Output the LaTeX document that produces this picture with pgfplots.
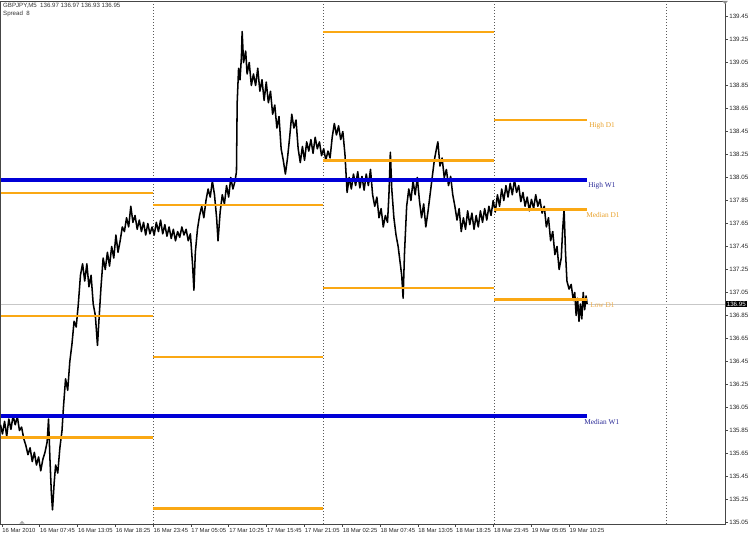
\documentclass[border=0pt]{standalone}
\usepackage{pgfplots}
\pgfplotsset{compat=1.18}
\usepackage{fontspec}
\setmainfont{Liberation Sans}
\newfontfamily\lblfont{Liberation Serif}
\definecolor{lvlorange}{RGB}{250,168,20}
\definecolor{lvlorangetxt}{RGB}{232,160,40}
\definecolor{lowtxt}{RGB}{236,172,75}
\definecolor{wkblue}{RGB}{0,0,215}
\definecolor{wkbluetxt}{RGB}{40,40,150}
\definecolor{framegray}{RGB}{70,70,70}

\begin{document}
\begin{tikzpicture}
\useasboundingbox (0,0) rectangle (562.5pt,404.25pt);
\begin{axis}[
  at={(0.4pt,403.5pt)}, anchor=north west,
  scale only axis, width=543.4pt, height=392.25pt,
  xmin=2.23, xmax=104.4, ymin=135.037, ymax=139.585,
  clip=false,
  axis line style={draw=framegray, line width=0.6pt},
  xtick pos=left, ytick pos=right, yticklabel pos=right,
  tick align=outside, major tick length=2.2pt,
  tick style={framegray, line width=0.5pt},
  /pgf/number format/assume math mode=true,
  ticklabel style={font=\fontsize{4.65}{5}\selectfont, text=black!85},
  xticklabel style={font=\fontsize{4.4}{5}\selectfont, anchor=north west, inner sep=0pt, xshift=0.2pt, yshift=-1.2pt},
  yticklabel style={anchor=west, inner sep=0pt, xshift=0.8pt},
  xtick={2.4167,7.75,13.0833,18.4167,23.75,29.0833,34.4167,39.75,45.0833,50.4167,55.75,61.0833,66.4167,71.75,77.0833,82.4167},
  xticklabels={16 Mar 2010,16 Mar 07:45,16 Mar 13:05,16 Mar 18:25,16 Mar 23:45,17 Mar 05:05,17 Mar 10:25,17 Mar 15:45,17 Mar 21:05,18 Mar 02:25,18 Mar 07:45,18 Mar 13:05,18 Mar 18:25,18 Mar 23:45,19 Mar 05:05,19 Mar 10:25},
  ytick={135.05,135.25,135.45,135.65,135.85,136.05,136.25,136.45,136.65,136.85,137.05,137.25,137.45,137.65,137.85,138.05,138.25,138.45,138.65,138.85,139.05,139.25,139.45},
  yticklabels={135.05,135.25,135.45,135.65,135.85,136.05,136.25,136.45,136.65,136.85,137.05,137.25,137.45,137.65,137.85,138.05,138.25,138.45,138.65,138.85,139.05,139.25,139.45},
]
% day separators
\addplot[black!65, line width=0.5pt, dash pattern=on 0.75pt off 1.5pt] coordinates {(23.79,135.037)(23.79,139.585)};
\addplot[black!65, line width=0.5pt, dash pattern=on 0.75pt off 1.5pt] coordinates {(47.74,135.037)(47.74,139.585)};
\addplot[black!65, line width=0.5pt, dash pattern=on 0.75pt off 1.5pt] coordinates {(71.83,135.037)(71.83,139.585)};
\addplot[black!65, line width=0.5pt, dash pattern=on 0.75pt off 1.5pt] coordinates {(96.07,135.037)(96.07,139.585)};
% last price line
\addplot[black!22, line width=0.5pt] coordinates {(2.23,136.95)(104.4,136.95)};

% GBPJPY M5 price path
\addplot[black, line width=1.15pt, line join=round] coordinates {
(2.23,135.90)(2.5,135.82)(2.8,135.93)(3.1,135.80)(3.4,135.95)(3.7,135.86)(4.0,135.98)(4.3,135.90)(4.6,135.97)(4.9,135.85)(5.2,135.88)(5.5,135.78)(5.8,135.72)(6.1,135.64)(6.4,135.70)(6.7,135.58)(7.0,135.66)(7.3,135.55)(7.6,135.62)(7.9,135.50)(8.2,135.60)(8.5,135.66)(8.8,135.75)(9.0,135.95)(9.2,135.60)(9.4,135.30)(9.56,135.16)(9.8,135.40)(10.0,135.55)(10.3,135.48)(10.6,135.70)(10.9,135.85)(11.1,136.05)(11.4,136.30)(11.7,136.20)(12.0,136.45)(12.3,136.60)(12.6,136.80)(12.9,136.75)(13.2,136.95)(13.5,137.20)(13.8,137.30)(14.1,137.15)(14.4,137.30)(14.7,137.10)(15.0,137.20)(15.3,136.95)(15.6,136.85)(15.9,136.59)(16.1,136.80)(16.4,137.10)(16.7,137.35)(17.0,137.25)(17.3,137.40)(17.6,137.28)(17.9,137.45)(18.2,137.35)(18.5,137.55)(18.8,137.40)(19.1,137.50)(19.4,137.62)(19.7,137.58)(20.0,137.70)(20.3,137.62)(20.6,137.80)(20.9,137.66)(21.2,137.72)(21.5,137.60)(21.8,137.68)(22.1,137.58)(22.4,137.66)(22.7,137.55)(23.0,137.65)(23.3,137.56)(23.6,137.62)
(23.9,137.55)(24.2,137.66)(24.5,137.58)(24.8,137.68)(25.1,137.56)(25.4,137.64)(25.7,137.54)(26.0,137.62)(26.3,137.52)(26.6,137.60)(26.9,137.50)(27.2,137.58)(27.5,137.53)(27.8,137.62)(28.1,137.55)(28.4,137.60)(28.7,137.50)(29.0,137.56)(29.3,137.30)(29.5,137.07)(29.7,137.40)(30.0,137.60)(30.3,137.72)(30.6,137.80)(30.9,137.70)(31.2,137.85)(31.5,137.95)(31.8,137.88)(32.1,138.02)(32.4,137.90)(32.7,137.70)(32.9,137.50)(33.2,137.75)(33.5,137.90)(33.8,137.82)(34.1,137.98)(34.4,137.88)(34.7,138.05)(35.0,137.95)(35.3,138.02)(35.5,138.10)(35.6,138.70)(35.8,139.00)(36.0,138.90)(36.2,139.10)(36.3,139.32)(36.5,139.05)(36.8,139.15)(37.0,138.95)(37.3,139.05)(37.6,138.85)(37.9,138.95)(38.2,138.85)(38.5,139.00)(38.8,138.80)(39.1,138.90)(39.4,138.72)(39.7,138.88)(40.0,138.70)(40.3,138.80)(40.6,138.60)(40.9,138.68)(41.2,138.48)(41.5,138.58)(41.8,138.30)(42.1,138.20)(42.4,138.08)(42.7,138.22)(43.0,138.40)(43.3,138.60)(43.6,138.48)(43.9,138.55)(44.2,138.30)(44.5,138.18)(44.8,138.32)(45.1,138.20)(45.4,138.36)(45.7,138.28)(46.0,138.38)(46.3,138.26)(46.6,138.40)(46.9,138.30)(47.2,138.36)(47.5,138.24)(47.8,138.30)
(48.1,138.20)(48.4,138.28)(48.7,138.22)(49.0,138.40)(49.3,138.52)(49.6,138.42)(49.9,138.50)(50.2,138.38)(50.5,138.45)(50.8,138.25)(51.1,137.92)(51.4,138.05)(51.7,137.95)(52.0,138.08)(52.3,137.98)(52.6,138.10)(52.9,137.96)(53.2,138.06)(53.5,137.94)(53.8,138.08)(54.1,137.98)(54.4,138.12)(54.7,137.90)(55.0,137.80)(55.3,137.88)(55.6,137.70)(55.9,137.78)(56.2,137.62)(56.5,137.72)(56.8,137.66)(57.0,137.90)(57.2,138.27)(57.4,137.95)(57.7,137.70)(58.0,137.55)(58.3,137.45)(58.6,137.30)(58.8,137.20)(59.0,137.00)(59.2,137.40)(59.5,137.80)(59.8,137.95)(60.1,137.85)(60.4,138.02)(60.7,137.90)(61.0,138.05)(61.3,137.85)(61.6,137.70)(61.9,137.82)(62.2,137.62)(62.5,137.75)(62.8,137.90)(63.1,138.05)(63.4,138.20)(63.7,138.30)(63.9,138.36)(64.2,138.15)(64.5,138.22)(64.8,138.05)(65.1,138.12)(65.4,137.98)(65.7,138.06)(66.0,137.90)(66.3,137.80)(66.6,137.68)(66.9,137.78)(67.2,137.58)(67.5,137.70)(67.8,137.60)(68.1,137.76)(68.4,137.64)(68.7,137.74)(69.0,137.60)(69.3,137.72)(69.6,137.62)(69.9,137.76)(70.2,137.66)(70.5,137.78)(70.8,137.68)(71.1,137.80)(71.4,137.72)
(71.7,137.85)(72.0,137.75)(72.3,137.90)(72.6,137.80)(72.9,137.95)(73.2,137.85)(73.5,137.98)(73.8,137.88)(74.1,138.00)(74.4,137.90)(74.7,138.03)(75.0,137.92)(75.3,137.98)(75.6,137.84)(75.9,137.92)(76.2,137.80)(76.5,137.88)(76.8,137.76)(77.1,137.86)(77.4,137.78)(77.7,137.90)(78.0,137.80)(78.3,137.86)(78.6,137.74)(78.9,137.80)(79.2,137.62)(79.5,137.70)(79.8,137.50)(80.1,137.58)(80.4,137.38)(80.7,137.45)(81.0,137.25)(81.3,137.35)(81.5,137.60)(81.7,137.77)(81.9,137.40)(82.1,137.15)(82.4,137.08)(82.7,137.12)(83.0,136.98)(83.2,137.05)(83.4,136.85)(83.6,137.00)(83.8,136.80)(84.0,136.95)(84.2,136.82)(84.4,137.05)(84.6,136.90)(84.8,137.02)(84.95,136.95)
};

% daily levels (high / median / low)
\addplot[lvlorange, line width=2pt] coordinates {(2.23,137.915)(23.79,137.915)};
\addplot[lvlorange, line width=2pt] coordinates {(2.23,136.846)(23.79,136.846)};
\addplot[lvlorange, line width=2pt] coordinates {(2.23,135.79)(23.79,135.79)};
\addplot[lvlorange, line width=2pt] coordinates {(23.79,137.81)(47.74,137.81)};
\addplot[lvlorange, line width=2pt] coordinates {(23.79,136.49)(47.74,136.49)};
\addplot[lvlorange, line width=2pt] coordinates {(23.79,135.17)(47.74,135.17)};
\addplot[lvlorange, line width=2pt] coordinates {(47.74,139.315)(71.83,139.315)};
\addplot[lvlorange, line width=2pt] coordinates {(47.74,138.20)(71.83,138.20)};
\addplot[lvlorange, line width=2pt] coordinates {(47.74,137.09)(71.83,137.09)};
\addplot[lvlorange, line width=2pt] coordinates {(71.83,138.55)(84.94,138.55)};
\addplot[lvlorange, line width=2pt] coordinates {(71.83,137.77)(84.94,137.77)};
\addplot[lvlorange, line width=2pt] coordinates {(71.83,136.99)(84.94,136.99)};
% weekly levels
\addplot[wkblue, line width=3pt] coordinates {(2.23,138.03)(84.94,138.03)};
\addplot[wkblue, line width=3pt] coordinates {(2.23,135.976)(84.94,135.976)};

% level captions
\node[anchor=north west, inner sep=0pt, text=lvlorangetxt, font=\lblfont\fontsize{5.5}{6}\selectfont] at (axis cs:85.22,138.533) {High D1};
\node[anchor=north west, inner sep=0pt, text=wkbluetxt, font=\lblfont\fontsize{5.5}{6}\selectfont] at (axis cs:85.08,138.011) {High W1};
\node[anchor=north west, inner sep=0pt, text=lvlorangetxt, font=\lblfont\fontsize{5.5}{6}\selectfont] at (axis cs:84.80,137.75) {Median D1};
\node[anchor=north west, inner sep=0pt, text=lowtxt, font=\lblfont\fontsize{5.5}{6}\selectfont] at (axis cs:85.36,136.967) {Low D1};
\node[anchor=north west, inner sep=0pt, text=wkbluetxt, font=\lblfont\fontsize{5.5}{6}\selectfont] at (axis cs:84.52,135.95) {Median W1};

% current price tag
\node[anchor=west, fill=black, text=white, inner xsep=0.8pt, inner ysep=0.9pt, xshift=0.3pt, font=\fontsize{4.65}{5}\selectfont] at (axis cs:104.4,136.95) {136.95};
\end{axis}

% chart header
\node[anchor=north west, inner sep=0pt, align=left, text=black!80, font=\fontsize{4.6}{6}\selectfont] at (2.2pt,402pt) {GBPJPY,M5\ \ 136.97 136.97 136.93 136.95\\Spread\ \ 8};
% shift markers
\fill[black!45] (541.6pt,403.6pt) -- (546pt,403.6pt) -- (543.8pt,401.2pt) -- cycle;
\fill[black!35] (14.5pt,11.6pt) -- (18.5pt,11.6pt) -- (16.5pt,13.6pt) -- cycle;
\end{tikzpicture}
\end{document}
